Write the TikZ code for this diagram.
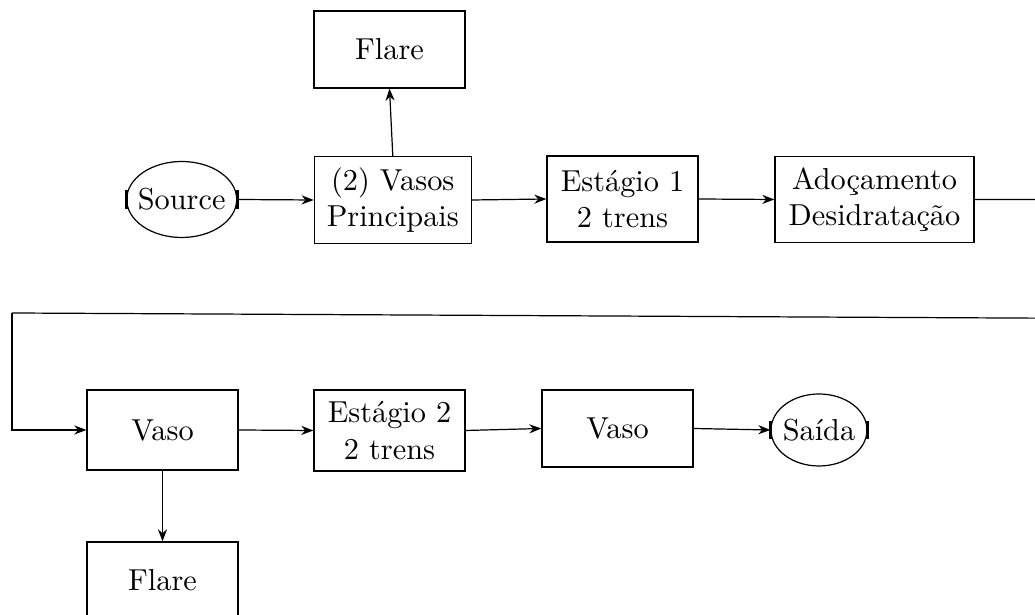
\documentclass[tikz,border=0pt]{standalone}
\usetikzlibrary{arrows.meta}
\begin{document}
\begin{tikzpicture}[x=0.33pt,y=-0.33pt,
  box/.style 2 args={draw, align=center, inner sep=0pt,
    minimum width=#1*0.33pt, minimum height=#2*0.33pt},
  term/.style 2 args={inner sep=0pt, minimum width=#1*0.33pt, minimum height=#2*0.33pt},
  conn/.style={-{Stealth[length=4pt,width=3pt]}},
  bar/.style={line width=1pt}]
\useasboundingbox (0,0) rectangle (1035,615);
\clip (0,0) rectangle (1035,615);

\node[box={151}{77}] (flare1) at (389.5,49.5) {Flare};
\node[term={110}{76}] (source) at (181.7,199.5) {Source};
\node[box={157}{87}] (vp) at (392.8,200) {(2) Vasos\\Principais};
\node[box={151}{86}] (e1) at (622.5,199) {Estágio 1\\2 trens};
\node[box={199}{86}] (ad) at (874.5,199.5) {Adoçamento\\Desidratação};

\node[box={151}{80}] (vaso1) at (162.5,430) {Vaso};
\node[box={151}{81}] (e2) at (389.5,430.5) {Estágio 2\\2 trens};
\node[box={151}{77}] (vaso2) at (617.5,428.5) {Vaso};
\node[term={96}{72}] (saida) at (819,430) {Saída};
\node[box={151}{77}] (flare2) at (162.5,580.5) {Flare};

\draw (source.center) ellipse [x radius=18.15pt, y radius=12.54pt];
\draw (saida.center) ellipse [x radius=15.84pt, y radius=11.88pt];
\draw[bar] ([yshift=3pt]source.west) -- ([yshift=-3pt]source.west);
\draw[bar] ([yshift=3pt]source.east) -- ([yshift=-3pt]source.east);
\draw[bar] ([yshift=3pt]saida.west) -- ([yshift=-3pt]saida.west);
\draw[bar] ([yshift=3pt]saida.east) -- ([yshift=-3pt]saida.east);

\coordinate (r1) at (1045,199.5);
\coordinate (r2) at (1045,318.2);
\coordinate (l1) at (12,313);

\draw[conn] (vp.north) -- (flare1.south);
\draw[conn] (source.east) -- (vp.west);
\draw[conn] (vp.east) -- (e1.west);
\draw[conn] (e1.east) -- (ad.west);
\draw (ad.east) -- (r1) -- (r2) -- (l1);
\draw[conn] (l1) |- (vaso1.west);
\draw[conn] (vaso1.east) -- (e2.west);
\draw[conn] (e2.east) -- (vaso2.west);
\draw[conn] (vaso2.east) -- (saida.west);
\draw[conn] (vaso1.south) -- (flare2.north);
\end{tikzpicture}
\end{document}
